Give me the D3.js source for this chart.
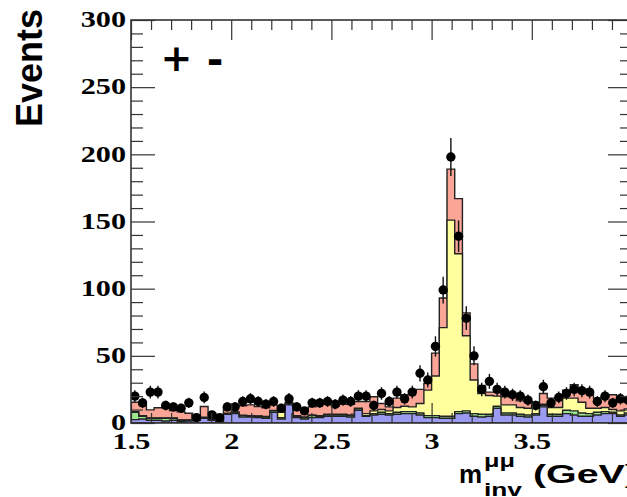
<!DOCTYPE html>
<html>
<head>
<meta charset="utf-8">
<script src="https://cdn.jsdelivr.net/npm/d3@7"></script>
<style>
  html, body { margin: 0; padding: 0; background: #fff; }
  svg { display: block; }
</style>
</head>
<body>
<svg id="chart" width="627" height="497"></svg>
<script>
// Dimuon invariant mass spectrum: stacked simulated components + data points
const xMin = 1.5, xMax = 4.0, nBins = 65;

// per-bin contents of each stacked component (bottom to top)
const blue = [2.5,3,2,2,1.5,2,1,1.5,2,3.5, 2,1,6.5,7,4.5,4.5,4,3.5,8,3,
  13.5,4,3,4,4,5,5,5,4.5,9.5, 5,6,6.5,6,6.5,7,7,6,4,4,
  3.5,3.5,7,7.5,5,4.5,5,11,6,6, 5,4.5,6,12,5,5,7,6,5,5, 6,7,7,5,6];
const green = [5.5,2,1.5,1.5,2,1.5,1,0.5,0.5,0.5, 0.5,0.5,0.5,1,1,0.5,1,1,1,1,
  0.5,1,1,1.5,1,1,1,1,1,1, 0.5,1,1.5,1,1.5,1.5,1.5,1.5,1.5,1.5,
  1.5,1.5,1.5,1.5,2,2,1.5,1.5,1.5,1.5, 1.5,1.5,1,1,1.5,1.5,2.5,3,2.5,2, 2,1.5,1,1,1.5];
const yellow = [0.5,0.5,0.3,0.3,0.3,0.3,0.3,0.3,0.2,0.3, 0.3,0.2,0.3,0.3,0.3,0.5,0.3,0.3,0.3,4,
  0.3,0.5,0.5,0.5,0.5,0.5,0.5,0.5,0.5,0.5, 1.5,2,2,2,3.5,4,3.5,7,19,29.5,
  66,146,117.5,56,25,15.5,14,7.5,6,6, 5,5,5,1,5,5,9,9.5,8,4, 3,3,2,3,3];
const pink = [7,8,6,7.5,7.5,5.5,6,5,2.5,8, 4.5,2,4,4,7,8,7,6.5,4,3,
  1,6,5,6,8.5,8,6,7.5,8,5, 9,10.5,4.5,3,7,8.5,12,10.5,5,17,
  22,38,41,17,12,6,2.5,3,6,6, 5,5,3.5,8,7,7,6,10,10,12, 7.5,8,11,7,6];
const dataCounts = [20,15,23,23,13,12,11,15,4,19, 6,4,12,12,16,18,16,14,16,11,
  18,12,9,15,15,16,14,17,16,20, 20,13,22,16,23,18,23,37,32,57,
  99,198,139,78,50,25,31,25,23,21, 20,17,13,27,15,19,22,25,24,23, 16,20,15,18,17];

// axis ticks
const yMajor = [0,50,100,150,200,250,300];
const xMajor = [1.5,2,2.5,3,3.5,4];
const xLabels = ["1.5","2","2.5","3","3.5"];

const layers = [
  { name: "blue",   values: blue,   fill: "#9b9bf2" },
  { name: "green",  values: green,  fill: "#9de88f" },
  { name: "yellow", values: yellow, fill: "#ffff9e" },
  { name: "pink",   values: pink,   fill: "#faa596" }
];

const svg = d3.select("#chart");
const frame = { left: 131, right: 632, top: 20, bottom: 423 };

const x = d3.scaleLinear().domain([xMin, xMax]).range([frame.left, frame.right]);
const y = d3.scaleLinear().domain([0, 300]).range([frame.bottom, frame.top]);

const binW = (xMax - xMin) / nBins;
const edges = d3.range(nBins + 1).map(i => xMin + i * binW);

svg.append("defs").append("clipPath").attr("id", "plotArea")
  .append("rect")
  .attr("x", frame.left).attr("y", frame.top)
  .attr("width", frame.right - frame.left).attr("height", frame.bottom - frame.top);

// cumulative stack
let running = new Array(nBins).fill(0);
const cumulative = layers.map(l => {
  running = running.map((v, i) => v + l.values[i]);
  return { ...l, top: running.slice() };
});

const area = d3.area()
  .x(d => x(d.x))
  .y0(y(0))
  .y1(d => y(d.v))
  .curve(d3.curveStepAfter);

const plot = svg.append("g").attr("clip-path", "url(#plotArea)");

// draw the stack as cumulative histograms, largest first
cumulative.slice().reverse().forEach(l => {
  const pts = edges.map((e, i) => ({ x: e, v: l.top[Math.min(i, nBins - 1)] }));
  plot.append("path")
    .attr("d", area(pts))
    .attr("fill", l.fill)
    .attr("stroke", "#222")
    .attr("stroke-width", 1.4);
});

// data points with Poisson errors
const pts = dataCounts.map((n, i) => ({ cx: xMin + (i + 0.5) * binW, n }));
plot.selectAll("line.err").data(pts).join("line")
  .attr("class", "err")
  .attr("x1", d => x(d.cx)).attr("x2", d => x(d.cx))
  .attr("y1", d => y(d.n + Math.sqrt(d.n)))
  .attr("y2", d => y(Math.max(0, d.n - Math.sqrt(d.n))))
  .attr("stroke", "#111").attr("stroke-width", 1.4);
plot.selectAll("circle.pt").data(pts).join("circle")
  .attr("class", "pt")
  .attr("cx", d => x(d.cx)).attr("cy", d => y(d.n))
  .attr("r", 4.7).attr("fill", "#000");

// axes: ticks inside the frame on all four sides
const yMinor = d3.range(0, 301, 10).filter(v => v % 50 !== 0);
const xMinor = d3.range(15, 41, 1).map(v => v / 10).filter(v => !xMajor.includes(v));

function styleAxis(g) {
  g.select(".domain").remove();
  g.selectAll(".tick line").attr("stroke", "#333").attr("stroke-width", 1.2);
}

const labelFont = "'Liberation Serif', 'Times New Roman', serif";
const stretch = 1.26;

svg.append("g").attr("transform", `translate(${frame.left},0)`)
  .call(d3.axisLeft(y).tickValues(yMajor).tickSize(-24).tickPadding(5).tickSizeOuter(0))
  .call(styleAxis)
  .call(g => g.selectAll("text")
    .attr("font-family", labelFont).attr("font-weight", "bold")
    .attr("font-size", 24).attr("fill", "#000")
    .attr("x", -5 / stretch)
    .attr("dy", "0.28em")
    .attr("transform", `scale(${stretch},1)`));
svg.append("g").attr("transform", `translate(${frame.left},0)`)
  .call(d3.axisLeft(y).tickValues(yMinor).tickSize(-12).tickFormat(""))
  .call(styleAxis);
svg.append("g").attr("transform", `translate(${frame.right},0)`)
  .call(d3.axisRight(y).tickValues(yMajor).tickSize(-24).tickFormat(""))
  .call(styleAxis);
svg.append("g").attr("transform", `translate(${frame.right},0)`)
  .call(d3.axisRight(y).tickValues(yMinor).tickSize(-12).tickFormat(""))
  .call(styleAxis);

svg.append("g").attr("transform", `translate(0,${frame.bottom})`)
  .call(d3.axisBottom(x).tickValues(xMajor).tickSize(-20).tickPadding(9)
    .tickFormat(d => { const i = xMajor.indexOf(d); return i < xLabels.length ? xLabels[i] : ""; }))
  .call(styleAxis)
  .call(g => g.selectAll("text")
    .attr("font-family", labelFont).attr("font-weight", "bold")
    .attr("font-size", 24).attr("fill", "#000")
    .attr("transform", `scale(${stretch},1)`));
svg.append("g").attr("transform", `translate(0,${frame.bottom})`)
  .call(d3.axisBottom(x).tickValues(xMinor).tickSize(-10).tickFormat(""))
  .call(styleAxis);
svg.append("g").attr("transform", `translate(0,${frame.top})`)
  .call(d3.axisTop(x).tickValues(xMajor).tickSize(-20).tickFormat(""))
  .call(styleAxis);
svg.append("g").attr("transform", `translate(0,${frame.top})`)
  .call(d3.axisTop(x).tickValues(xMinor).tickSize(-10).tickFormat(""))
  .call(styleAxis);

// frame
svg.append("rect")
  .attr("x", frame.left).attr("y", frame.top)
  .attr("width", frame.right - frame.left).attr("height", frame.bottom - frame.top)
  .attr("fill", "none").attr("stroke", "#333").attr("stroke-width", 1.6);

// titles
const titleFont = "'Liberation Sans', Arial, sans-serif";
svg.append("text")
  .attr("transform", "translate(42,9) rotate(-90)")
  .attr("text-anchor", "end")
  .attr("font-family", titleFont).attr("font-weight", "bold")
  .attr("font-size", 36).text("Events");

const xt = svg.append("g").attr("font-family", titleFont).attr("font-weight", "bold");
xt.append("text").attr("x", 459).attr("y", 483).attr("font-size", 26).text("m");
xt.append("text").attr("x", 484).attr("y", 467).attr("font-size", 19)
  .attr("textLength", 31).attr("lengthAdjust", "spacingAndGlyphs").text("μμ");
xt.append("text").attr("x", 484).attr("y", 496).attr("font-size", 19)
  .attr("textLength", 38).attr("lengthAdjust", "spacingAndGlyphs").text("inv");
xt.append("text").attr("x", 533).attr("y", 483).attr("font-size", 25)
  .attr("textLength", 105).attr("lengthAdjust", "spacingAndGlyphs").text("(GeV)");

// charge label
const charge = svg.append("g").attr("font-family", "'DejaVu Sans', sans-serif").attr("font-weight", "bold");
charge.append("text").attr("x", 176.5).attr("y", 71).attr("text-anchor", "middle")
  .attr("font-size", 38).text("+");
charge.append("text").attr("x", 215).attr("y", 74).attr("text-anchor", "middle")
  .attr("font-size", 40).text("-");
</script>
</body>
</html>
